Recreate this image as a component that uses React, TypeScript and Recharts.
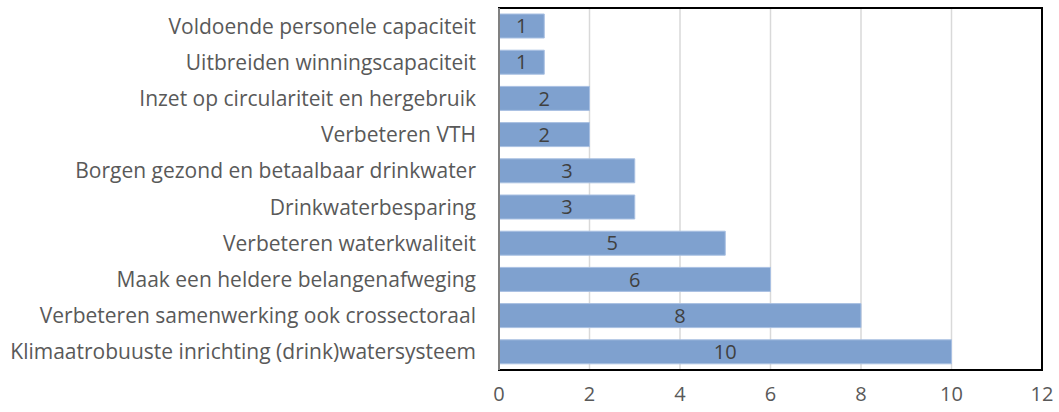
import { BarChart, Bar, XAxis, YAxis, CartesianGrid, LabelList, ReferenceArea } from "recharts";

const categories = [
  "Voldoende personele capaciteit",
  "Uitbreiden winningscapaciteit",
  "Inzet op circulariteit en hergebruik",
  "Verbeteren VTH",
  "Borgen gezond en betaalbaar drinkwater",
  "Drinkwaterbesparing",
  "Verbeteren waterkwaliteit",
  "Maak een heldere belangenafweging",
  "Verbeteren samenwerking ook crossectoraal",
  "Klimaatrobuuste inrichting (drink)watersysteem",
];

const counts = [1, 1, 2, 2, 3, 3, 5, 6, 8, 10];

const xTicks = [0, 2, 4, 6, 8, 10, 12];

const data = categories.map((name, i) => ({ name, value: counts[i] }));

const font = "'Open Sans', 'Noto Sans', sans-serif";

const App = () => {
  return (
    <div style={{ position: "absolute", left: 0, top: 0, fontFamily: font }}>
      <BarChart
        width={1059}
        height={412}
        data={data}
        layout="vertical"
        margin={{ top: 8, right: 17, bottom: 10, left: 0 }}
      >
        <CartesianGrid horizontal={false} stroke="#D9D9D9" strokeWidth={1.5} />
        <ReferenceArea x1={0} x2={12} fill="none" stroke="#000" strokeWidth={2} ifOverflow="visible" />
        <XAxis
          type="number"
          domain={[0, 12]}
          ticks={xTicks}
          tickLine={false}
          axisLine={{ stroke: "#000", strokeWidth: 2 }}
          tick={{ fill: "#595959", fontSize: 20, fontFamily: font }}
          tickMargin={11}
          height={32}
        />
        <YAxis
          type="category"
          dataKey="name"
          width={499}
          tickLine={false}
          tickSize={0}
          tickMargin={23}
          interval={0}
          axisLine={{ stroke: "#808080", strokeWidth: 2 }}
          tick={{ fill: "#595959", fontSize: 21, fontFamily: font }}
        />
        <Bar
          dataKey="value"
          fill="#7FA1CF"
          stroke="#A9C0E2"
          strokeWidth={1}
          barSize={24}
          isAnimationActive={false}
        >
          <LabelList
            dataKey="value"
            position="center"
            fill="#404040"
            fontSize={20}
            fontFamily={font}
          />
        </Bar>
      </BarChart>
    </div>
  );
};

export default App;
